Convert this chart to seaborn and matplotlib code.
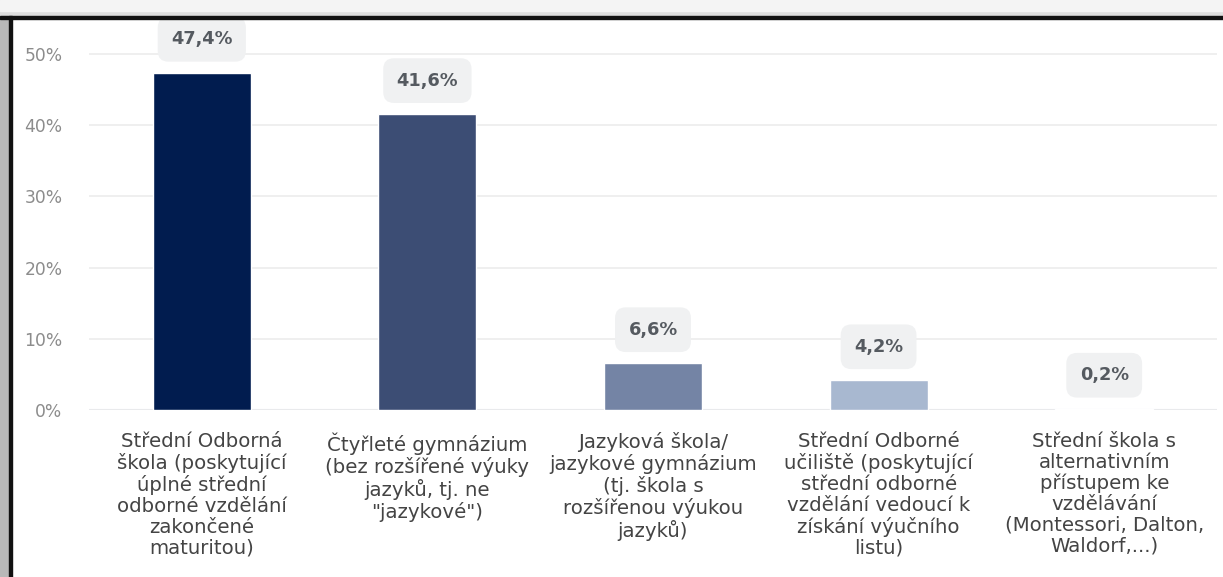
import matplotlib
matplotlib.use('Agg')
import matplotlib.pyplot as plt
import seaborn as sns
import pandas as pd
from matplotlib.patches import Rectangle
from matplotlib.ticker import FuncFormatter

# Data
kategorie = [
    "Střední Odborná\nškola (poskytující\núplné střední\nodborné vzdělání\nzakončené\nmaturitou)",
    "Čtyřleté gymnázium\n(bez rozšířené výuky\njazyků, tj. ne\n\"jazykové\")",
    "Jazyková škola/\njazykové gymnázium\n(tj. škola s\nrozšířenou výukou\njazyků)",
    "Střední Odborné\nučiliště (poskytující\nstřední odborné\nvzdělání vedoucí k\nzískání výučního\nlistu)",
    "Střední škola s\nalternativním\npřístupem ke\nvzdělávání\n(Montessori, Dalton,\nWaldorf,...)",
]
hodnoty = [47.4, 41.6, 6.6, 4.2, 0.2]
popisky = ["47,4%", "41,6%", "6,6%", "4,2%", "0,2%"]
barvy = ["#011c4f", "#3c4d74", "#7484a5", "#a8b8d0", "#d3ddea"]

df = pd.DataFrame({"kategorie": kategorie, "hodnota": hodnoty})

sns.set_theme(style="white")
plt.rcParams['font.family'] = ['DejaVu Sans']

W, H = 1223, 577
fig = plt.figure(figsize=(W / 100, H / 100), dpi=100)
fig.patch.set_facecolor("white")

# axes placed in pixel terms: x 89..1217, y(0%)=410, top=20
ax = fig.add_axes([89 / W, (H - 410) / H, (1217 - 89) / W, (410 - 20) / H])

sns.barplot(data=df, x="kategorie", y="hodnota", hue="kategorie",
            palette=barvy, legend=False, width=0.435, ax=ax, saturation=1)

ax.set_ylim(0, 54.8)
ax.set_xlim(-0.5, 4.5)
ax.set_yticks([0, 10, 20, 30, 40, 50])
ax.yaxis.set_major_formatter(FuncFormatter(lambda v, p: f"{int(v)}%"))
ax.grid(axis="y", color="#ececec", linewidth=1.2)
ax.set_axisbelow(True)
ax.axhline(0, color="#dde4f0", linewidth=1.5, zorder=0.5)
for s in ax.spines.values():
    s.set_visible(False)
ax.set_xlabel("")
ax.set_ylabel("")
ax.tick_params(axis="y", length=0, pad=19, labelsize=12.3, labelcolor="#8c8c8c")
ax.tick_params(axis="x", length=0, pad=16, labelsize=14.2, labelcolor="#444444")
for t in ax.get_xticklabels():
    t.set_linespacing(1.12)
    t.set_verticalalignment("top")
    t.set_horizontalalignment("center")

# value labels in rounded grey boxes
for i, (v, txt) in enumerate(zip(hodnoty, popisky)):
    ax.annotate(txt, xy=(i, v), xytext=(0, 24), textcoords="offset points",
                ha="center", va="center", fontsize=12.8, fontweight="bold",
                color="#555a60", annotation_clip=False,
                bbox=dict(boxstyle="round,pad=0.75,rounding_size=0.6",
                          fc="#f0f1f2", ec="none"))

# screenshot frame: grey shadow + black border at top and left
fig.patches.append(Rectangle((0, (H - 16) / H), 1, 16 / H, transform=fig.transFigure,
                             color="#dedede", zorder=10))
fig.patches.append(Rectangle((0, (H - 11) / H), 1, 11 / H, transform=fig.transFigure,
                             color="#f4f4f4", zorder=10))
fig.patches.append(Rectangle((0, (H - 19) / H), 1, 3 / H, transform=fig.transFigure,
                             color="#111111", zorder=11))
fig.patches.append(Rectangle((0, 0), 9 / W, (H - 16) / H, transform=fig.transFigure,
                             color="#b8b8b8", zorder=10))
fig.patches.append(Rectangle((9 / W, 0), 3 / W, (H - 16) / H, transform=fig.transFigure,
                             color="#111111", zorder=11))

fig.savefig("out.png", dpi=100)
